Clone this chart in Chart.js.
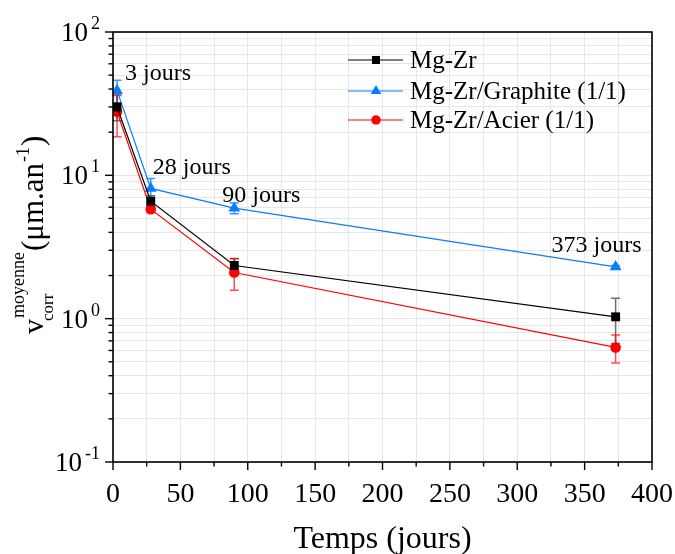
<!DOCTYPE html>
<html><head><meta charset="utf-8">
<script src="https://cdn.jsdelivr.net/npm/chart.js@4/dist/chart.umd.min.js"></script>
<style>html,body{margin:0;padding:0;background:#fff;}#wrap{width:675px;height:554px;}</style>
</head><body><div id="wrap"><canvas id="c" width="675" height="554"></canvas></div>
<script>
// ---- data ----
const days = [3, 28, 90, 373];
const seriesLabels = ['Mg-Zr', 'Mg-Zr/Graphite (1/1)', 'Mg-Zr/Acier (1/1)'];
const mgZr = [30, 6.6, 2.35, 1.03];
const mgZrErr = [6, 0.6, 0.28, 0.36];
const graphite = [39, 8.1, 5.9, 2.3];
const graphiteErr = [7, 1.4, 0.5, 0.05];
const acier = [27.8, 5.8, 2.1, 0.63];
const acierErr = [9.2, 0.3, 0.52, 0.14];
const dayLabels = ['3 jours', '28 jours', '90 jours', '373 jours'];
const xTickValues = [0, 25, 50, 75, 100, 125, 150, 175, 200, 225, 250, 275, 300, 325, 350, 375, 400];
const yExponents = [-1, 0, 1, 2];
const xTitle = 'Temps (jours)';

const SERIF = '"Liberation Serif", "DejaVu Serif", serif';
const errs = [mgZrErr, graphiteErr, acierErr];

function mk(label, vals, color, style, r) {
  return {
    label, data: days.map((d, i) => ({x: d, y: vals[i]})),
    borderColor: color, backgroundColor: color, borderWidth: 1.2,
    pointStyle: style, pointRadius: r, pointBorderWidth: 0, pointBackgroundColor: color,
    tension: 0, fill: false
  };
}
const datasets = [
  mk(seriesLabels[0], mgZr, '#000000', 'rect', 6.3),
  mk(seriesLabels[1], graphite, '#0a7cff', 'triangle', 6.8),
  mk(seriesLabels[2], acier, '#ff0000', 'circle', 5.3)
];
const errColors = ['rgba(60,60,60,0.75)', 'rgba(10,124,255,0.8)', 'rgba(255,0,0,0.7)'];

function drawMarker(ctx, style, r, x, y, color) {
  ctx.save(); ctx.fillStyle = color; ctx.beginPath();
  if (style === 'rect') { const s = Math.SQRT1_2 * r; ctx.rect(x - s, y - s, 2 * s, 2 * s); }
  else if (style === 'triangle') {
    let a = 0; ctx.moveTo(x + Math.sin(a) * r, y - Math.cos(a) * r);
    a += 2 * Math.PI / 3; ctx.lineTo(x + Math.sin(a) * r, y - Math.cos(a) * r);
    a += 2 * Math.PI / 3; ctx.lineTo(x + Math.sin(a) * r, y - Math.cos(a) * r);
    ctx.closePath();
  } else { ctx.arc(x, y, r, 0, Math.PI * 2); }
  ctx.fill(); ctx.restore();
}

const errorBars = {
  id: 'errorBars',
  beforeDatasetsDraw(chart) {
    const {ctx, scales: {x, y}} = chart;
    ctx.save(); ctx.lineWidth = 1.5;
    chart.data.datasets.forEach((ds, di) => {
      ctx.strokeStyle = errColors[di];
      ds.data.forEach((p, i) => {
        const e = errs[di][i];
        const px = x.getPixelForValue(p.x);
        const top = y.getPixelForValue(p.y + e), bot = y.getPixelForValue(p.y - e);
        ctx.beginPath();
        ctx.moveTo(px, top); ctx.lineTo(px, bot);
        ctx.moveTo(px - 4.5, top); ctx.lineTo(px + 4.5, top);
        ctx.moveTo(px - 4.5, bot); ctx.lineTo(px + 4.5, bot);
        ctx.stroke();
      });
    });
    ctx.restore();
  }
};

const frame = {
  id: 'frame',
  afterDatasetsDraw(chart) {
    const {ctx, chartArea: a, scales: {x, y}} = chart;
    ctx.save();
    ctx.strokeStyle = '#000'; ctx.lineWidth = 1.6;
    ctx.strokeRect(a.left, a.top, a.right - a.left, a.bottom - a.top);
    ctx.lineWidth = 1.4;
    x.ticks.forEach(t => {
      const px = x.getPixelForValue(t.value), major = t.value % 50 === 0;
      ctx.beginPath(); ctx.moveTo(px, a.bottom); ctx.lineTo(px, a.bottom + (major ? 8 : 4.5)); ctx.stroke();
    });
    y.ticks.forEach(t => {
      const py = y.getPixelForValue(t.value);
      const lg = Math.log10(t.value), major = Math.abs(lg - Math.round(lg)) < 1e-6;
      ctx.beginPath(); ctx.moveTo(a.left, py); ctx.lineTo(a.left - (major ? 8 : 4.5), py); ctx.stroke();
    });
    // y tick labels with superscript exponents
    ctx.fillStyle = '#000';
    yExponents.forEach(e => {
      const py = y.getPixelForValue(Math.pow(10, e));
      const sup = String(e);
      ctx.font = '18px ' + SERIF;
      const sw = ctx.measureText(sup).width;
      const right = a.left - 13;
      ctx.textAlign = 'left'; ctx.textBaseline = 'alphabetic';
      ctx.fillText(sup, right - sw, py - 3);
      ctx.font = '27px ' + SERIF;
      ctx.textAlign = 'right';
      ctx.fillText('10', right - sw - 3, py + 9);
    });
    // day annotations near the graphite points
    const meta = chart.getDatasetMeta(1);
    const offs = [[8, -11], [2, -14], [-12, -6], [-64, -15]];
    ctx.font = '24px ' + SERIF; ctx.textAlign = 'left'; ctx.textBaseline = 'alphabetic';
    meta.data.forEach((pt, i) => {
      ctx.fillText(dayLabels[i], pt.x + offs[i][0], pt.y + offs[i][1]);
    });
    // legend
    const rows = [60, 91, 120];
    chart.data.datasets.forEach((ds, i) => {
      const yy = rows[i];
      ctx.strokeStyle = ds.borderColor; ctx.lineWidth = 1.2;
      ctx.beginPath(); ctx.moveTo(348, yy); ctx.lineTo(403, yy); ctx.stroke();
      drawMarker(ctx, ds.pointStyle, ds.pointRadius * 0.9, 376, yy, ds.borderColor);
      ctx.fillStyle = '#000'; ctx.font = '25px ' + SERIF; ctx.textBaseline = 'middle';
      ctx.fillText(ds.label, 410, yy + 1);
    });
    // y title: v^{moyenne}_{corr}(μm.an^{-1})
    ctx.save();
    ctx.translate(43, 334); ctx.rotate(-Math.PI / 2);
    ctx.textAlign = 'left'; ctx.textBaseline = 'alphabetic'; ctx.fillStyle = '#000';
    ctx.font = '30px ' + SERIF;
    ctx.fillText('v', 0, 0);
    let cx = ctx.measureText('v').width + 1;
    ctx.font = '18px ' + SERIF;
    ctx.fillText('moyenne', cx, -19);
    const wm = ctx.measureText('moyenne').width;
    ctx.font = '17px ' + SERIF;
    ctx.fillText('corr', cx - 3, 10);
    cx += wm + 1;
    ctx.font = '31px ' + SERIF;
    ctx.fillText('(μm.an', cx, 0);
    cx += ctx.measureText('(μm.an').width + 1;
    ctx.font = '18px ' + SERIF;
    ctx.fillText('-1', cx, -14);
    cx += ctx.measureText('-1').width + 1;
    ctx.font = '31px ' + SERIF;
    ctx.fillText(')', cx, 0);
    ctx.restore();
    ctx.restore();
  }
};

new Chart(document.getElementById('c'), {
  type: 'line',
  data: {datasets},
  options: {
    responsive: false, animation: false, devicePixelRatio: 1,
    layout: {padding: {top: 32, right: 23, left: 0, bottom: 0}},
    plugins: {legend: {display: false}, tooltip: {enabled: false}},
    scales: {
      x: {
        type: 'linear', min: 0, max: 400,
        afterBuildTicks: s => { s.ticks = xTickValues.map(v => ({value: v})); },
        afterFit: s => { s.height = 92; s.paddingLeft = 0; s.paddingRight = 0; },
        ticks: {autoSkip: false, maxRotation: 0, padding: 16, color: '#000',
          font: {family: SERIF, size: 28},
          callback: v => (v % 50 === 0 ? String(v) : '')},
        grid: {color: '#e6e6e6', lineWidth: 1, drawTicks: false},
        border: {display: false},
        title: {display: true, text: xTitle, color: '#000', font: {family: SERIF, size: 32}, padding: {top: 0, bottom: -5}}
      },
      y: {
        type: 'logarithmic', min: 0.1, max: 100,
        afterBuildTicks: s => {
          const t = [];
          yExponents.forEach((e, k) => {
            if (k === yExponents.length - 1) { t.push({value: Math.pow(10, e)}); return; }
            for (let m = 1; m <= 9; m++) t.push({value: +(m * Math.pow(10, e)).toPrecision(6)});
          });
          s.ticks = t;
        },
        afterFit: s => { s.width = 113; s.paddingTop = 0; s.paddingBottom = 0; },
        ticks: {display: false, autoSkip: false},
        grid: {color: '#e6e6e6', lineWidth: 1, drawTicks: false},
        border: {display: false}
      }
    }
  },
  plugins: [errorBars, frame]
});
</script>
</body></html>
